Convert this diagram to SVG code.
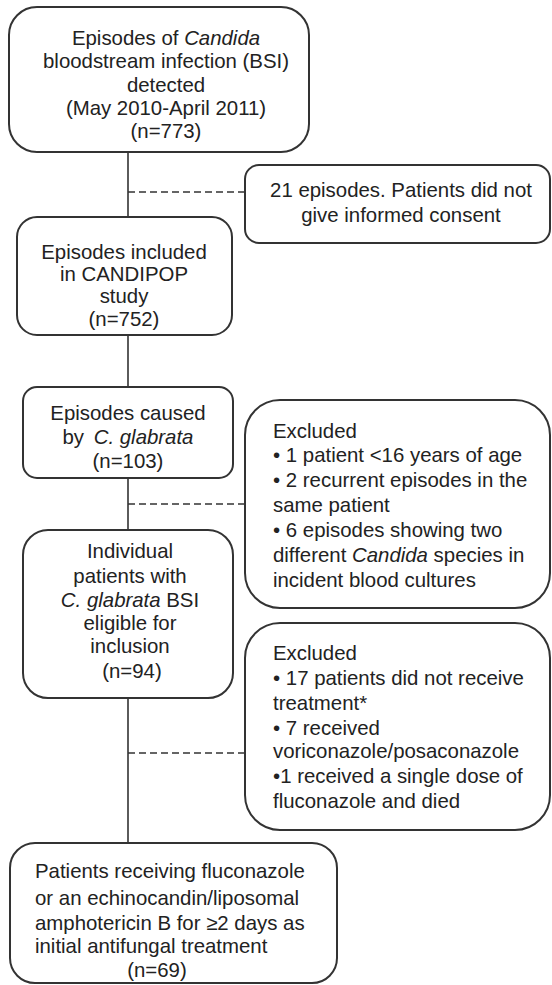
<svg xmlns="http://www.w3.org/2000/svg" width="552" height="985" viewBox="0 0 552 985">
<style>
.box{fill:#fff;stroke:#333;stroke-width:2}
.t{font-family:"Liberation Sans",Arial,sans-serif;font-size:20.4px;fill:#222}
.c{text-anchor:middle}
.i{font-style:italic}
.ln{stroke:#333;stroke-width:1.6;fill:none}
.dash{stroke:#333;stroke-width:1.6;fill:none;stroke-dasharray:7 4}
</style>
<rect width="552" height="985" fill="#fff"/>
<g id="connectors">
<line class="ln" x1="128" y1="152" x2="128" y2="217"/>
<line class="ln" x1="128" y1="335" x2="128" y2="387"/>
<line class="ln" x1="128" y1="478" x2="128" y2="530"/>
<line class="ln" x1="128" y1="698" x2="128" y2="843"/>
<line class="dash" x1="128" y1="192" x2="245" y2="192"/>
<line class="dash" x1="128" y1="504" x2="245" y2="504"/>
<line class="dash" x1="128" y1="753" x2="245" y2="753"/>
</g>
<g id="n1">
<rect class="box" x="9" y="7" width="300" height="145" rx="28"/>
<text class="t c" x="166" y="45">Episodes of <tspan class="i">Candida</tspan></text>
<text class="t c" x="166" y="68">bloodstream infection (BSI)</text>
<text class="t c" x="166" y="92">detected</text>
<text class="t c" x="166" y="115">(May 2010-April 2011)</text>
<text class="t c" x="166" y="138">(n=773)</text>
</g>
<g id="n2">
<rect class="box" x="245" y="165" width="305" height="78" rx="14"/>
<text class="t c" x="401" y="197">21 episodes. Patients did not</text>
<text class="t c" x="401" y="222">give informed consent</text>
</g>
<g id="n3">
<rect class="box" x="17" y="217" width="215" height="118" rx="20"/>
<text class="t c" x="124" y="259">Episodes included</text>
<text class="t c" x="124" y="281">in CANDIPOP</text>
<text class="t c" x="124" y="303">study</text>
<text class="t c" x="124" y="326">(n=752)</text>
</g>
<g id="n4">
<rect class="box" x="23" y="387" width="210" height="91" rx="14"/>
<text class="t c" x="128" y="420">Episodes caused</text>
<text class="t c" x="128" y="444">by <tspan dx="4" class="i">C. glabrata</tspan></text>
<text class="t c" x="128" y="468">(n=103)</text>
</g>
<g id="n5">
<rect class="box" x="23" y="530" width="210" height="168" rx="25"/>
<text class="t c" x="130" y="558">Individual</text>
<text class="t c" x="130" y="583">patients with</text>
<text class="t c" x="130" y="607"><tspan class="i">C. glabrata</tspan> BSI</text>
<text class="t c" x="130" y="630">eligible for</text>
<text class="t c" x="130" y="653">inclusion</text>
<text class="t c" x="132" y="678">(n=94)</text>
</g>
<g id="n6">
<rect class="box" x="245" y="400" width="305" height="208" rx="35"/>
<text class="t" x="273" y="438">Excluded</text>
<text class="t" x="273" y="462">• 1 patient &lt;16 years of age</text>
<text class="t" x="273" y="487">• 2 recurrent episodes in the</text>
<text class="t" x="273" y="512">same patient</text>
<text class="t" x="273" y="537">• 6 episodes showing two</text>
<text class="t" x="273" y="562">different <tspan class="i">Candida</tspan> species in</text>
<text class="t" x="273" y="587">incident blood cultures</text>
</g>
<g id="n7">
<rect class="box" x="245" y="623" width="305" height="207" rx="35"/>
<text class="t" x="273" y="660">Excluded</text>
<text class="t" x="273" y="685">• 17 patients did not receive</text>
<text class="t" x="273" y="710">treatment*</text>
<text class="t" x="273" y="735">• 7 received</text>
<text class="t" x="273" y="758">voriconazole/posaconazole</text>
<text class="t" x="273" y="783">•1 received a single dose of</text>
<text class="t" x="273" y="808">fluconazole and died</text>
</g>
<g id="n8">
<rect class="box" x="10" y="843" width="327" height="140" rx="25"/>
<text class="t" x="35" y="878">Patients receiving fluconazole</text>
<text class="t" x="35" y="905">or an echinocandin/liposomal</text>
<text class="t" x="35" y="930">amphotericin B for ≥2 days as</text>
<text class="t" x="35" y="953">initial antifungal treatment</text>
<text class="t c" x="157" y="977">(n=69)</text>
</g>
</svg>
